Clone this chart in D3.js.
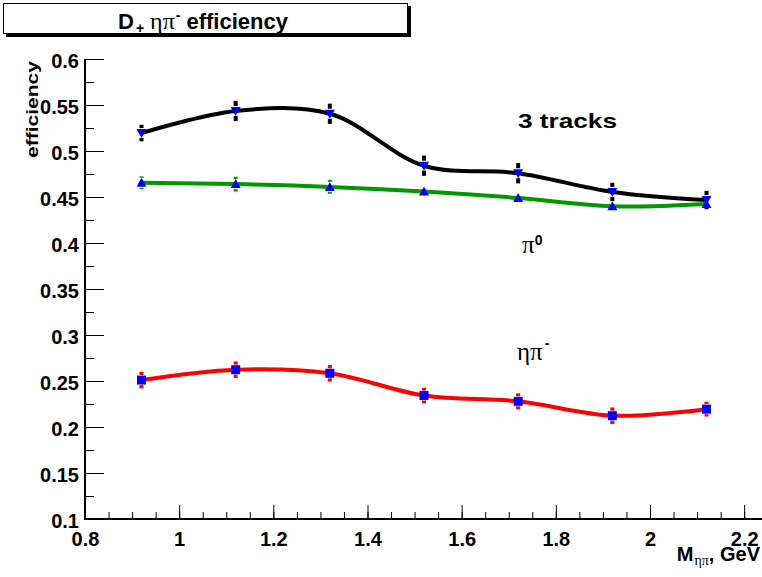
<!DOCTYPE html>
<html><head><meta charset="utf-8">
<script src="https://cdn.jsdelivr.net/npm/d3@7"></script>
<style>
body{margin:0;background:#fff;}
svg{display:block;}
</style></head>
<body>
<svg id="c" width="762" height="577"></svg>
<script>
// ---- data ----
const massPoints = [0.92, 1.12, 1.32, 1.52, 1.72, 1.92, 2.12];
const eff3tracks = [0.5195, 0.5435, 0.5405, 0.484, 0.4758, 0.4555, 0.4467];
const err3tracks = [0.009, 0.011, 0.011, 0.011, 0.011, 0.010, 0.010];
const effPi0 = [0.4655, 0.4640, 0.4610, 0.4560, 0.4490, 0.4400, 0.4425];
const errPi0 = [0.007, 0.008, 0.0075, 0.004, 0.004, 0.004, 0.004];
const effEtaPi = [0.251, 0.2623, 0.2584, 0.2342, 0.2279, 0.2123, 0.2194];
const errEtaPi = [0.009, 0.009, 0.009, 0.0085, 0.0087, 0.009, 0.008];
const xTicks = [0.8, 1.0, 1.2, 1.4, 1.6, 1.8, 2.0, 2.2];
const yTicks = [0.1, 0.15, 0.2, 0.25, 0.3, 0.35, 0.4, 0.45, 0.5, 0.55, 0.6];
const xDomain = [0.8, 2.24];
const yDomain = [0.1, 0.6];

const svg = d3.select("#c");
const x = d3.scaleLinear().domain(xDomain).range([85, 763]);
const y = d3.scaleLinear().domain(yDomain).range([519, 59]);
const sans = "'Liberation Sans', Arial, Helvetica, sans-serif";
const serif = "'Liberation Serif', 'Times New Roman', serif";
const fmt = d => String(+d.toFixed(3));

// ---- axes ----
const xMinor = d3.range(xDomain[0], 2.2001, 0.05);
const yMinor = d3.range(yDomain[0], 0.6001, 0.025);

const gxm = svg.append("g").attr("transform", "translate(0,519)")
  .call(d3.axisBottom(x).tickValues(xMinor).tickSize(-7).tickFormat(""));
const gx = svg.append("g").attr("transform", "translate(0,519)")
  .call(d3.axisBottom(x).tickValues(xTicks).tickSize(-14).tickPadding(13).tickFormat(fmt));
const gym = svg.append("g").attr("transform", "translate(85,0)")
  .call(d3.axisLeft(y).tickValues(yMinor).tickSize(-9).tickFormat(""));
const gy = svg.append("g").attr("transform", "translate(85,0)")
  .call(d3.axisLeft(y).tickValues(yTicks).tickSize(-19).tickPadding(6).tickFormat(fmt));
[gxm, gx, gym, gy].forEach(g => {
  g.select(".domain").remove();
  g.selectAll("line").attr("stroke", "#000").attr("stroke-width", 1);
  g.selectAll("text").attr("font-family", sans).attr("font-weight", "bold")
    .attr("font-size", 20).attr("fill", "#000");
});
gy.selectAll("text").attr("dy", "0.4em");

svg.append("line").attr("x1", 85).attr("x2", 762).attr("y1", 519).attr("y2", 519)
  .attr("stroke", "#000").attr("stroke-width", 2);
svg.append("line").attr("x1", 85).attr("x2", 85).attr("y1", 59).attr("y2", 520)
  .attr("stroke", "#000").attr("stroke-width", 2);

// ---- series ----
const series = [
  {vals: eff3tracks, errs: err3tracks, color: "#000", marker: "down"},
  {vals: effPi0, errs: errPi0, color: "#009900", marker: "up"},
  {vals: effEtaPi, errs: errEtaPi, color: "#ff0000", marker: "square"}
];
const line = d3.line().x(d => x(d[0])).y(d => y(d[1])).curve(d3.curveCatmullRom.alpha(0.5));

series.forEach(s => {
  const pts = massPoints.map((m, i) => [m, s.vals[i], s.errs[i]]);
  const g = svg.append("g");
  g.append("path").attr("d", line(pts)).attr("fill", "none")
    .attr("stroke", s.color).attr("stroke-width", 4).attr("stroke-linejoin", "round");
  // error bars (with gap around the marker)
  const gap = 5;
  pts.forEach(p => {
    const cx = x(p[0]), cy = y(p[1]);
    const top = y(p[1] + p[2]), bot = y(p[1] - p[2]);
    if (cy - top > gap) g.append("line").attr("x1", cx).attr("x2", cx)
      .attr("y1", top).attr("y2", cy - gap).attr("stroke", s.color).attr("stroke-width", 4);
    if (bot - cy > gap) g.append("line").attr("x1", cx).attr("x2", cx)
      .attr("y1", cy + gap).attr("y2", bot).attr("stroke", s.color).attr("stroke-width", 4);
  });
  pts.forEach(p => {
    const cx = x(p[0]), cy = y(p[1]);
    let d;
    if (s.marker === "square") d = `M${cx-4.5},${cy-4.5}h9v9h-9z`;
    else if (s.marker === "up") d = `M${cx},${cy-5}L${cx+5},${cy+4}L${cx-5},${cy+4}Z`;
    else d = `M${cx},${cy+5}L${cx+5},${cy-4}L${cx-5},${cy-4}Z`;
    g.append("path").attr("d", d).attr("fill", "#0000ff");
  });
});

// ---- labels ----
svg.append("text").attr("x", 518).attr("y", 128).attr("font-family", sans)
  .attr("font-weight", "bold").attr("font-size", 21).attr("textLength", 99)
  .attr("lengthAdjust", "spacingAndGlyphs").text("3 tracks");

const pi0 = svg.append("text").attr("x", 522).attr("y", 253);
pi0.append("tspan").attr("font-family", serif).attr("font-size", 25).text("π");
pi0.append("tspan").attr("font-family", sans).attr("font-weight", "bold")
  .attr("font-size", 14).attr("dy", -8).text("0");

const etapi = svg.append("text").attr("x", 517).attr("y", 360);
etapi.append("tspan").attr("font-family", serif).attr("font-size", 25).text("ηπ");
etapi.append("tspan").attr("font-family", sans).attr("font-weight", "bold")
  .attr("font-size", 14).attr("dy", -12).attr("dx", 2).text("-");

// y axis title
svg.append("text").attr("transform", "translate(38,61) rotate(-90)")
  .attr("text-anchor", "end").attr("font-family", sans).attr("font-weight", "bold")
  .attr("font-size", 17).attr("textLength", 97).attr("lengthAdjust", "spacingAndGlyphs")
  .text("efficiency");

// x axis title
const xt = svg.append("text").attr("x", 760).attr("y", 561).attr("text-anchor", "end")
  .attr("font-family", sans).attr("font-weight", "bold").attr("font-size", 20);
xt.append("tspan").text("M");
xt.append("tspan").attr("font-family", serif).attr("font-weight", "normal")
  .attr("font-size", 14).attr("dy", 4).attr("dx", 1).text("ηπ");
xt.append("tspan").attr("dy", -4).text(", GeV");

// ---- title box ----
svg.append("rect").attr("x", 6).attr("y", 6).attr("width", 405).attr("height", 31).attr("fill", "#000");
svg.append("rect").attr("x", 3.5).attr("y", 3.5).attr("width", 404).attr("height", 30)
  .attr("fill", "#fff").attr("stroke", "#000").attr("stroke-width", 1);
const tt = svg.append("text").attr("x", 118).attr("y", 29).attr("font-family", sans)
  .attr("font-weight", "bold").attr("font-size", 22);
tt.append("tspan").text("D");
tt.append("tspan").attr("font-size", 14).attr("dy", 4).attr("dx", 2).text("+");
tt.append("tspan").attr("font-family", serif).attr("font-weight", "normal")
  .attr("font-size", 24).attr("dy", -4).attr("dx", 6).text("ηπ");
tt.append("tspan").attr("font-size", 14).attr("dy", -9).attr("dx", 1).text("-");
tt.append("tspan").attr("dy", 9).attr("dx", 6).text("efficiency");
</script>
</body></html>
